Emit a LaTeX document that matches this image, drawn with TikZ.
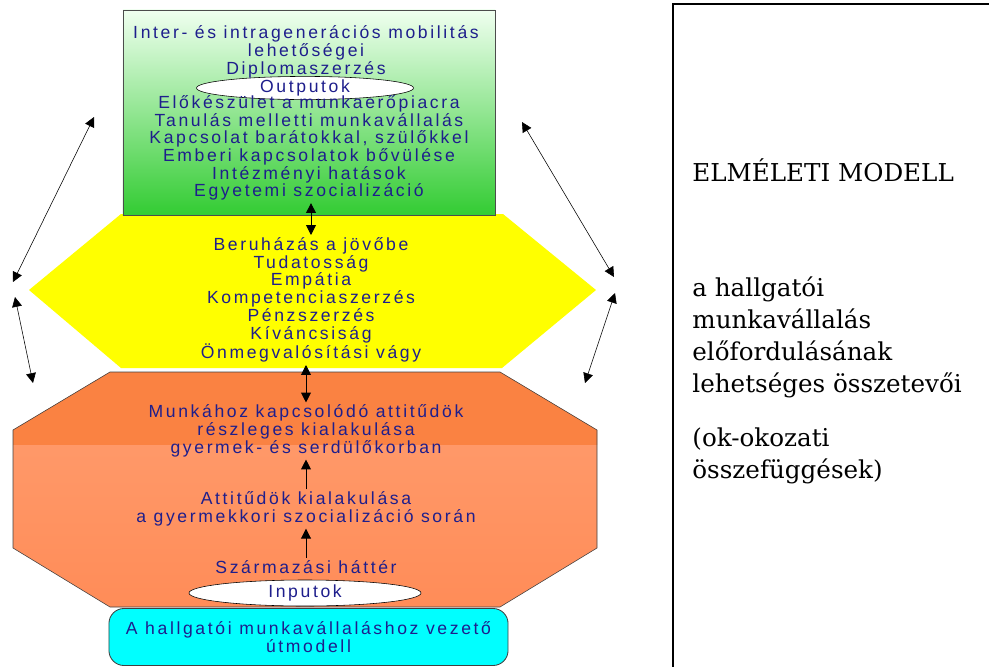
\documentclass[tikz,border=0pt]{standalone}
\usepackage{fontspec}
\usepackage{tikz}
\usetikzlibrary{arrows.meta,shapes.geometric}
\newfontfamily\bluefont[LetterSpace=15]{Liberation Sans}
\newfontfamily\modelfont{DejaVu Serif}
\definecolor{txtblue}{RGB}{30,30,140}
\definecolor{outgreen}{RGB}{51,204,51}
\definecolor{hexyellow}{RGB}{255,255,0}
\definecolor{octtop}{RGB}{250,130,66}
\definecolor{octlow}{RGB}{255,158,112}
\definecolor{octbot}{RGB}{255,140,88}
\definecolor{pathcyan}{RGB}{0,255,255}

\begin{document}
\begin{tikzpicture}[x=0.025cm, y=-0.025cm, >={Triangle[length=7pt,width=7pt]}, semithick,
    lbl/.style={font=\bluefont\fontsize{12.5}{12.6}\selectfont, text=txtblue, align=center, inner sep=1.5pt},
    io/.style={ellipse, draw=black, thin, fill=white, inner sep=0pt, font=\bluefont\fontsize{12.5}{12.6}\selectfont, text=txtblue},
    side/.style={<->, thin},
    modeltxt/.style={font=\modelfont\fontsize{17.5}{22.8}\selectfont, align=left, inner sep=0pt, anchor=west}]
  \useasboundingbox (0,0) rectangle (989,666);

  % layers
  \fill [hexyellow] (29,290) -- (121,214) -- (503,214) -- (596,290) -- (502,368) -- (121,368) -- cycle;
  \node [draw=black!70, top color=green!6!white, bottom color=outgreen,
         minimum width=9.3cm, minimum height=5.125cm] (outbox) at (309,112.5) {};
  \shade [top color=octlow, bottom color=octbot] (110,372) -- (500,372) -- (597,430) -- (597,548)
     -- (500,607) -- (110,607) -- (13,548) -- (13,430) -- cycle;
  \begin{scope}
    \clip (110,372) -- (500,372) -- (597,430) -- (597,548) -- (500,607) -- (110,607) -- (13,548) -- (13,430) -- cycle;
    \fill [octtop] (0,372) rectangle (620,445);
  \end{scope}
  \draw [black!75, thin] (110,372) -- (500,372) -- (597,430) -- (597,548) -- (500,607) -- (110,607)
     -- (13,548) -- (13,430) -- cycle;
  \node [lbl, draw=black!75, fill=pathcyan, rounded corners=0.375cm, minimum width=9.975cm,
         minimum height=1.425cm] (utmodell) at (308.5,637) {A hallgatói munkavállaláshoz vezető\\útmodell};

  % texts
  \node [io, minimum width=5.425cm, minimum height=0.45cm] (outp) at (305,88) {Outputok};
  \node [lbl] (outtop) at (306,52) {Inter- és intragenerációs mobilitás\\lehetőségei\\Diplomaszerzés};
  \node [lbl] (outbot) at (309,148) {Előkészület a munkaerőpiacra\\Tanulás melletti munkavállalás\\Kapcsolat barátokkal, szülőkkel\\Emberi kapcsolatok bővülése\\Intézményi hatások\\Egyetemi szocializáció};
  \node [lbl] (yeltext) at (311,300) {Beruházás a jövőbe\\Tudatosság\\Empátia\\Kompetenciaszerzés\\Pénzszerzés\\Kíváncsiság\\Önmegvalósítási vágy};
  \node [lbl] (munka) at (306,431) {Munkához kapcsolódó attitűdök\\részleges kialakulása\\gyermek- és serdülőkorban};
  \node [lbl] (attit) at (306,509) {Attitűdök kialakulása\\a gyermekkori szocializáció során};
  \node [lbl] (szarm) at (306,567) {Származási háttér};
  \node [io, minimum width=5.8cm, minimum height=0.65cm] (inp) at (305,593) {Inputok};

  \path
  (yeltext.north) edge [<->] (yeltext.north |- outbot.south)
  (munka.north) edge [<->] (munka.north |- yeltext.south)
  (attit.north) edge [->] (attit.north |- munka.south)
  (szarm.north) edge [->] (szarm.north |- attit.south)
  ;

  % side arrows
  \coordinate (lfel) at (94,117);
  \coordinate (lkoz1) at (13,282);
  \coordinate (lkoz2) at (15,297);
  \coordinate (lle) at (33,383);
  \coordinate (jfel) at (522,122);
  \coordinate (jkoz1) at (614,277);
  \coordinate (jkoz2) at (615,293);
  \coordinate (jle) at (585,383);
  \path
  (lfel) edge [side] (lkoz1)
  (lkoz2) edge [side] (lle)
  (jfel) edge [side] (jkoz1)
  (jkoz2) edge [side] (jle)
  ;

  % right panel
  \node [draw, line width=1.4pt, minimum width=8.5cm, minimum height=17cm, anchor=north west] (keret) at (672,3) {};
  \node [modeltxt] (cim) at (692,170) {ELMÉLETI MODELL};
  \node [modeltxt] (leiras) at (692,337) {a hallgatói\\munkavállalás\\előfordulásának\\lehetséges összetevői};
  \node [modeltxt] (okok) at (692,456) {(ok-okozati\\összefüggések)};
\end{tikzpicture}
\end{document}
